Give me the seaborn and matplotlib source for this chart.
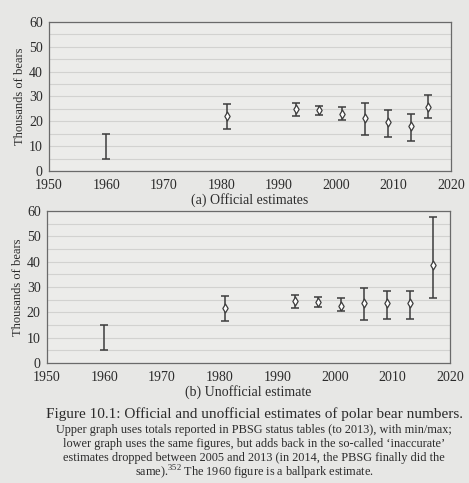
import matplotlib
matplotlib.use("Agg")
import matplotlib.pyplot as plt
import numpy as np
import pandas as pd
import seaborn as sns

# (a) official estimates, thousands of bears (min / max from PBSG tables)
years_official = [1960, 1981, 1993, 1997, 2001, 2005, 2009, 2013, 2016]
est_official = [np.nan, 22.0, 25.0, 24.6, 23.1, 21.3, 19.6, 18.1, 25.6]
low_official = [5.0, 16.9, 22.1, 22.5, 20.4, 14.6, 13.6, 11.9, 21.2]
high_official = [15.0, 27.0, 27.4, 26.3, 25.9, 27.4, 24.7, 23.0, 30.4]

# (b) unofficial estimates
years_unofficial = [1960, 1981, 1993, 1997, 2001, 2005, 2009, 2013, 2017]
est_unofficial = [np.nan, 21.8, 24.5, 24.1, 22.7, 23.5, 23.7, 23.5, 38.5]
low_unofficial = [5.0, 16.6, 21.7, 22.0, 20.5, 16.8, 17.5, 17.3, 25.6]
high_unofficial = [15.0, 26.6, 27.0, 25.9, 25.6, 29.8, 28.6, 28.3, 57.8]

x_ticks = [1950, 1960, 1970, 1980, 1990, 2000, 2010, 2020]
y_ticks = [0, 10, 20, 30, 40, 50, 60]

caption_title = "Figure 10.1: Official and unofficial estimates of polar bear numbers."
caption_lines = [
    "Upper graph uses totals reported in PBSG status tables (to 2013), with min/max;",
    "lower graph uses the same figures, but adds back in the so-called \u2018inaccurate\u2019",
    "estimates dropped between 2005 and 2013 (in 2014, the PBSG finally did the",
    "same).$^{352}$ The 1960 figure is a ballpark estimate.",
]

paper = "#e7e7e5"
ink = "#2b2b2b"
bar_color = "#3d3d3d"

sns.set_theme(
    style="white",
    rc={
        "figure.facecolor": paper,
        "axes.facecolor": "#ececea",
        "axes.edgecolor": "#6a6a6a",
        "text.color": ink,
        "axes.labelcolor": ink,
        "xtick.color": ink,
        "ytick.color": ink,
    },
)
plt.rcParams["font.family"] = ["Liberation Serif", "DejaVu Serif"]
plt.rcParams["mathtext.fontset"] = "custom"
plt.rcParams["mathtext.rm"] = "Liberation Serif"


def draw_panel(ax, years, est, low, high, label):
    df = pd.DataFrame({"year": years, "est": est, "low": low, "high": high})
    mid = df["est"].fillna((df["low"] + df["high"]) / 2)
    ax.errorbar(
        df["year"], mid,
        yerr=[mid - df["low"], df["high"] - mid],
        fmt="none", ecolor=bar_color, elinewidth=1.1, capsize=3.2, capthick=1.1,
    )
    sns.scatterplot(
        data=df.dropna(subset=["est"]), x="year", y="est", marker="d", s=20,
        facecolor="white", edgecolor=bar_color, linewidth=0.9, ax=ax, zorder=3,
    )
    ax.set_xlim(1950, 2020)
    ax.set_ylim(0, 60)
    ax.set_xticks(x_ticks)
    ax.set_yticks(y_ticks)
    ax.set_yticks(np.arange(5, 60, 10), minor=True)
    ax.grid(which="both", axis="y", color="#d2d2d0", linewidth=0.8)
    ax.set_axisbelow(True)
    ax.tick_params(axis="both", which="major", direction="out", length=3, width=0.8,
                   labelsize=10, pad=1.5)
    ax.tick_params(axis="x", which="major", pad=2.5)
    ax.tick_params(axis="y", which="minor", length=0)
    ax.set_ylabel("Thousands of bears", fontsize=9, labelpad=2)
    ax.set_xlabel(label, fontsize=10, labelpad=1)
    for spine in ax.spines.values():
        spine.set_linewidth(0.9)


fig = plt.figure(figsize=(4.69, 4.83), dpi=100)
ax_top = fig.add_axes([0.1045, 0.646, 0.857, 0.3085])
ax_bottom = fig.add_axes([0.100, 0.2484, 0.8595, 0.3147])

draw_panel(ax_top, years_official, est_official, low_official, high_official,
           "(a) Official estimates")
draw_panel(ax_bottom, years_unofficial, est_unofficial, low_unofficial, high_unofficial,
           "(b) Unofficial estimate")

fig.text(0.542, 0.142, caption_title, ha="center", va="center", fontsize=11)
for i, line in enumerate(caption_lines):
    fig.text(0.542, 0.109 - i * 0.029, line, ha="center", va="center", fontsize=8.8)

fig.savefig("out.png", dpi=100, facecolor=paper)
